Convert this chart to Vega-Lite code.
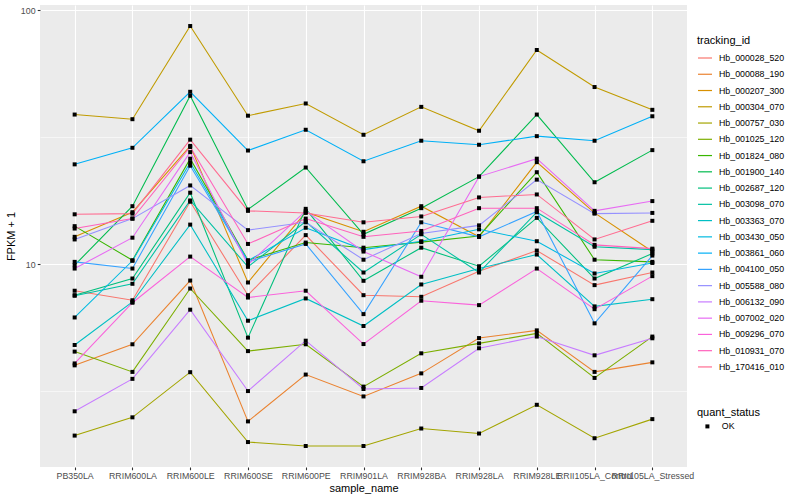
{
  "$schema": "https://vega.github.io/schema/vega-lite/v6.json",
  "width": 647,
  "height": 462,
  "autosize": {"type": "none"},
  "padding": {"left": 40, "top": 5, "right": 113, "bottom": 33},
  "background": "#FFFFFF",
  "config": {
    "font": "Liberation Sans",
    "view": {"fill": "#EBEBEB", "stroke": null},
    "axis": {"domain": false, "gridColor": "#FFFFFF", "gridWidth": 1.1, "tickColor": "#333333", "tickSize": 2.75, "tickWidth": 1.1, "labelColor": "#4D4D4D", "labelFontSize": 8.8, "labelPadding": 2.2, "titleFontSize": 11, "titleColor": "#000000", "titleFontWeight": "normal"},
    "legend": {"titleFontSize": 11, "titleFontWeight": "normal", "titleColor": "#000000", "labelFontSize": 8.8, "labelColor": "#000000"}
  },
  "data": {"values": [
    {"sample":"PB350LA","id":"Hb_000028_520","value":7.85,"status":"OK"},
    {"sample":"RRIM600LA","id":"Hb_000028_520","value":7.2,"status":"OK"},
    {"sample":"RRIM600LE","id":"Hb_000028_520","value":17.6,"status":"OK"},
    {"sample":"RRIM600SE","id":"Hb_000028_520","value":7.54,"status":"OK"},
    {"sample":"RRIM600PE","id":"Hb_000028_520","value":13.0,"status":"OK"},
    {"sample":"RRIM901LA","id":"Hb_000028_520","value":7.54,"status":"OK"},
    {"sample":"RRIM928BA","id":"Hb_000028_520","value":7.43,"status":"OK"},
    {"sample":"RRIM928LA","id":"Hb_000028_520","value":9.37,"status":"OK"},
    {"sample":"RRIM928LE","id":"Hb_000028_520","value":11.3,"status":"OK"},
    {"sample":"RRII105LA_Control","id":"Hb_000028_520","value":8.26,"status":"OK"},
    {"sample":"RRII105LA_Stressed","id":"Hb_000028_520","value":9.26,"status":"OK"},
    {"sample":"PB350LA","id":"Hb_000088_190","value":3.99,"status":"OK"},
    {"sample":"RRIM600LA","id":"Hb_000088_190","value":4.83,"status":"OK"},
    {"sample":"RRIM600LE","id":"Hb_000088_190","value":8.61,"status":"OK"},
    {"sample":"RRIM600SE","id":"Hb_000088_190","value":2.40,"status":"OK"},
    {"sample":"RRIM600PE","id":"Hb_000088_190","value":3.67,"status":"OK"},
    {"sample":"RRIM901LA","id":"Hb_000088_190","value":3.01,"status":"OK"},
    {"sample":"RRIM928BA","id":"Hb_000088_190","value":3.71,"status":"OK"},
    {"sample":"RRIM928LA","id":"Hb_000088_190","value":5.11,"status":"OK"},
    {"sample":"RRIM928LE","id":"Hb_000088_190","value":5.48,"status":"OK"},
    {"sample":"RRII105LA_Control","id":"Hb_000088_190","value":3.76,"status":"OK"},
    {"sample":"RRII105LA_Stressed","id":"Hb_000088_190","value":4.10,"status":"OK"},
    {"sample":"PB350LA","id":"Hb_000207_300","value":12.8,"status":"OK"},
    {"sample":"RRIM600LA","id":"Hb_000207_300","value":16.0,"status":"OK"},
    {"sample":"RRIM600LE","id":"Hb_000207_300","value":29.2,"status":"OK"},
    {"sample":"RRIM600SE","id":"Hb_000207_300","value":8.46,"status":"OK"},
    {"sample":"RRIM600PE","id":"Hb_000207_300","value":16.0,"status":"OK"},
    {"sample":"RRIM901LA","id":"Hb_000207_300","value":13.4,"status":"OK"},
    {"sample":"RRIM928BA","id":"Hb_000207_300","value":16.9,"status":"OK"},
    {"sample":"RRIM928LA","id":"Hb_000207_300","value":12.8,"status":"OK"},
    {"sample":"RRIM928LE","id":"Hb_000207_300","value":25.2,"status":"OK"},
    {"sample":"RRII105LA_Control","id":"Hb_000207_300","value":15.9,"status":"OK"},
    {"sample":"RRII105LA_Stressed","id":"Hb_000207_300","value":11.2,"status":"OK"},
    {"sample":"PB350LA","id":"Hb_000304_070","value":38.8,"status":"OK"},
    {"sample":"RRIM600LA","id":"Hb_000304_070","value":37.2,"status":"OK"},
    {"sample":"RRIM600LE","id":"Hb_000304_070","value":86.6,"status":"OK"},
    {"sample":"RRIM600SE","id":"Hb_000304_070","value":38.4,"status":"OK"},
    {"sample":"RRIM600PE","id":"Hb_000304_070","value":42.9,"status":"OK"},
    {"sample":"RRIM901LA","id":"Hb_000304_070","value":32.3,"status":"OK"},
    {"sample":"RRIM928BA","id":"Hb_000304_070","value":41.6,"status":"OK"},
    {"sample":"RRIM928LA","id":"Hb_000304_070","value":33.5,"status":"OK"},
    {"sample":"RRIM928LE","id":"Hb_000304_070","value":69.7,"status":"OK"},
    {"sample":"RRII105LA_Control","id":"Hb_000304_070","value":49.8,"status":"OK"},
    {"sample":"RRII105LA_Stressed","id":"Hb_000304_070","value":40.5,"status":"OK"},
    {"sample":"PB350LA","id":"Hb_000757_030","value":2.11,"status":"OK"},
    {"sample":"RRIM600LA","id":"Hb_000757_030","value":2.49,"status":"OK"},
    {"sample":"RRIM600LE","id":"Hb_000757_030","value":3.75,"status":"OK"},
    {"sample":"RRIM600SE","id":"Hb_000757_030","value":1.99,"status":"OK"},
    {"sample":"RRIM600PE","id":"Hb_000757_030","value":1.92,"status":"OK"},
    {"sample":"RRIM901LA","id":"Hb_000757_030","value":1.92,"status":"OK"},
    {"sample":"RRIM928BA","id":"Hb_000757_030","value":2.25,"status":"OK"},
    {"sample":"RRIM928LA","id":"Hb_000757_030","value":2.15,"status":"OK"},
    {"sample":"RRIM928LE","id":"Hb_000757_030","value":2.79,"status":"OK"},
    {"sample":"RRII105LA_Control","id":"Hb_000757_030","value":2.06,"status":"OK"},
    {"sample":"RRII105LA_Stressed","id":"Hb_000757_030","value":2.45,"status":"OK"},
    {"sample":"PB350LA","id":"Hb_001025_120","value":4.52,"status":"OK"},
    {"sample":"RRIM600LA","id":"Hb_001025_120","value":3.76,"status":"OK"},
    {"sample":"RRIM600LE","id":"Hb_001025_120","value":8.01,"status":"OK"},
    {"sample":"RRIM600SE","id":"Hb_001025_120","value":4.54,"status":"OK"},
    {"sample":"RRIM600PE","id":"Hb_001025_120","value":4.83,"status":"OK"},
    {"sample":"RRIM901LA","id":"Hb_001025_120","value":3.29,"status":"OK"},
    {"sample":"RRIM928BA","id":"Hb_001025_120","value":4.45,"status":"OK"},
    {"sample":"RRIM928LA","id":"Hb_001025_120","value":4.87,"status":"OK"},
    {"sample":"RRIM928LE","id":"Hb_001025_120","value":5.33,"status":"OK"},
    {"sample":"RRII105LA_Control","id":"Hb_001025_120","value":3.56,"status":"OK"},
    {"sample":"RRII105LA_Stressed","id":"Hb_001025_120","value":5.18,"status":"OK"},
    {"sample":"PB350LA","id":"Hb_001824_080","value":14.1,"status":"OK"},
    {"sample":"RRIM600LA","id":"Hb_001824_080","value":10.35,"status":"OK"},
    {"sample":"RRIM600LE","id":"Hb_001824_080","value":26.0,"status":"OK"},
    {"sample":"RRIM600SE","id":"Hb_001824_080","value":10.35,"status":"OK"},
    {"sample":"RRIM600PE","id":"Hb_001824_080","value":12.15,"status":"OK"},
    {"sample":"RRIM901LA","id":"Hb_001824_080","value":11.6,"status":"OK"},
    {"sample":"RRIM928BA","id":"Hb_001824_080","value":12.2,"status":"OK"},
    {"sample":"RRIM928LA","id":"Hb_001824_080","value":12.9,"status":"OK"},
    {"sample":"RRIM928LE","id":"Hb_001824_080","value":23.0,"status":"OK"},
    {"sample":"RRII105LA_Control","id":"Hb_001824_080","value":10.4,"status":"OK"},
    {"sample":"RRII105LA_Stressed","id":"Hb_001824_080","value":10.2,"status":"OK"},
    {"sample":"PB350LA","id":"Hb_001900_140","value":9.9,"status":"OK"},
    {"sample":"RRIM600LA","id":"Hb_001900_140","value":16.9,"status":"OK"},
    {"sample":"RRIM600LE","id":"Hb_001900_140","value":46.0,"status":"OK"},
    {"sample":"RRIM600SE","id":"Hb_001900_140","value":16.4,"status":"OK"},
    {"sample":"RRIM600PE","id":"Hb_001900_140","value":24.0,"status":"OK"},
    {"sample":"RRIM901LA","id":"Hb_001900_140","value":13.1,"status":"OK"},
    {"sample":"RRIM928BA","id":"Hb_001900_140","value":16.6,"status":"OK"},
    {"sample":"RRIM928LA","id":"Hb_001900_140","value":22.1,"status":"OK"},
    {"sample":"RRIM928LE","id":"Hb_001900_140","value":38.8,"status":"OK"},
    {"sample":"RRII105LA_Control","id":"Hb_001900_140","value":21.0,"status":"OK"},
    {"sample":"RRII105LA_Stressed","id":"Hb_001900_140","value":28.1,"status":"OK"},
    {"sample":"PB350LA","id":"Hb_002687_120","value":7.54,"status":"OK"},
    {"sample":"RRIM600LA","id":"Hb_002687_120","value":8.77,"status":"OK"},
    {"sample":"RRIM600LE","id":"Hb_002687_120","value":19.1,"status":"OK"},
    {"sample":"RRIM600SE","id":"Hb_002687_120","value":5.13,"status":"OK"},
    {"sample":"RRIM600PE","id":"Hb_002687_120","value":16.5,"status":"OK"},
    {"sample":"RRIM901LA","id":"Hb_002687_120","value":8.59,"status":"OK"},
    {"sample":"RRIM928BA","id":"Hb_002687_120","value":11.6,"status":"OK"},
    {"sample":"RRIM928LA","id":"Hb_002687_120","value":9.8,"status":"OK"},
    {"sample":"RRIM928LE","id":"Hb_002687_120","value":15.2,"status":"OK"},
    {"sample":"RRII105LA_Control","id":"Hb_002687_120","value":8.77,"status":"OK"},
    {"sample":"RRII105LA_Stressed","id":"Hb_002687_120","value":11.0,"status":"OK"},
    {"sample":"PB350LA","id":"Hb_003098_070","value":7.50,"status":"OK"},
    {"sample":"RRIM600LA","id":"Hb_003098_070","value":8.36,"status":"OK"},
    {"sample":"RRIM600LE","id":"Hb_003098_070","value":17.8,"status":"OK"},
    {"sample":"RRIM600SE","id":"Hb_003098_070","value":9.75,"status":"OK"},
    {"sample":"RRIM600PE","id":"Hb_003098_070","value":14.7,"status":"OK"},
    {"sample":"RRIM901LA","id":"Hb_003098_070","value":9.26,"status":"OK"},
    {"sample":"RRIM928BA","id":"Hb_003098_070","value":13.1,"status":"OK"},
    {"sample":"RRIM928LA","id":"Hb_003098_070","value":9.26,"status":"OK"},
    {"sample":"RRIM928LE","id":"Hb_003098_070","value":16.0,"status":"OK"},
    {"sample":"RRII105LA_Control","id":"Hb_003098_070","value":11.7,"status":"OK"},
    {"sample":"RRII105LA_Stressed","id":"Hb_003098_070","value":11.4,"status":"OK"},
    {"sample":"PB350LA","id":"Hb_003363_070","value":4.80,"status":"OK"},
    {"sample":"RRIM600LA","id":"Hb_003363_070","value":7.09,"status":"OK"},
    {"sample":"RRIM600LE","id":"Hb_003363_070","value":14.3,"status":"OK"},
    {"sample":"RRIM600SE","id":"Hb_003363_070","value":5.98,"status":"OK"},
    {"sample":"RRIM600PE","id":"Hb_003363_070","value":7.32,"status":"OK"},
    {"sample":"RRIM901LA","id":"Hb_003363_070","value":5.70,"status":"OK"},
    {"sample":"RRIM928BA","id":"Hb_003363_070","value":8.31,"status":"OK"},
    {"sample":"RRIM928LA","id":"Hb_003363_070","value":9.6,"status":"OK"},
    {"sample":"RRIM928LE","id":"Hb_003363_070","value":10.9,"status":"OK"},
    {"sample":"RRII105LA_Control","id":"Hb_003363_070","value":6.81,"status":"OK"},
    {"sample":"RRII105LA_Stressed","id":"Hb_003363_070","value":7.27,"status":"OK"},
    {"sample":"PB350LA","id":"Hb_003430_050","value":6.16,"status":"OK"},
    {"sample":"RRIM600LA","id":"Hb_003430_050","value":10.3,"status":"OK"},
    {"sample":"RRIM600LE","id":"Hb_003430_050","value":25.1,"status":"OK"},
    {"sample":"RRIM600SE","id":"Hb_003430_050","value":10.3,"status":"OK"},
    {"sample":"RRIM600PE","id":"Hb_003430_050","value":13.9,"status":"OK"},
    {"sample":"RRIM901LA","id":"Hb_003430_050","value":11.4,"status":"OK"},
    {"sample":"RRIM928BA","id":"Hb_003430_050","value":12.3,"status":"OK"},
    {"sample":"RRIM928LA","id":"Hb_003430_050","value":13.7,"status":"OK"},
    {"sample":"RRIM928LE","id":"Hb_003430_050","value":12.3,"status":"OK"},
    {"sample":"RRII105LA_Control","id":"Hb_003430_050","value":9.18,"status":"OK"},
    {"sample":"RRII105LA_Stressed","id":"Hb_003430_050","value":10.1,"status":"OK"},
    {"sample":"PB350LA","id":"Hb_003861_060","value":24.7,"status":"OK"},
    {"sample":"RRIM600LA","id":"Hb_003861_060","value":28.7,"status":"OK"},
    {"sample":"RRIM600LE","id":"Hb_003861_060","value":47.7,"status":"OK"},
    {"sample":"RRIM600SE","id":"Hb_003861_060","value":28.0,"status":"OK"},
    {"sample":"RRIM600PE","id":"Hb_003861_060","value":33.8,"status":"OK"},
    {"sample":"RRIM901LA","id":"Hb_003861_060","value":25.4,"status":"OK"},
    {"sample":"RRIM928BA","id":"Hb_003861_060","value":30.6,"status":"OK"},
    {"sample":"RRIM928LA","id":"Hb_003861_060","value":29.5,"status":"OK"},
    {"sample":"RRIM928LE","id":"Hb_003861_060","value":31.9,"status":"OK"},
    {"sample":"RRII105LA_Control","id":"Hb_003861_060","value":30.6,"status":"OK"},
    {"sample":"RRII105LA_Stressed","id":"Hb_003861_060","value":38.2,"status":"OK"},
    {"sample":"PB350LA","id":"Hb_004100_050","value":10.2,"status":"OK"},
    {"sample":"RRIM600LA","id":"Hb_004100_050","value":9.6,"status":"OK"},
    {"sample":"RRIM600LE","id":"Hb_004100_050","value":24.4,"status":"OK"},
    {"sample":"RRIM600SE","id":"Hb_004100_050","value":10.2,"status":"OK"},
    {"sample":"RRIM600PE","id":"Hb_004100_050","value":12.0,"status":"OK"},
    {"sample":"RRIM901LA","id":"Hb_004100_050","value":6.35,"status":"OK"},
    {"sample":"RRIM928BA","id":"Hb_004100_050","value":14.6,"status":"OK"},
    {"sample":"RRIM928LA","id":"Hb_004100_050","value":12.8,"status":"OK"},
    {"sample":"RRIM928LE","id":"Hb_004100_050","value":16.1,"status":"OK"},
    {"sample":"RRII105LA_Control","id":"Hb_004100_050","value":5.84,"status":"OK"},
    {"sample":"RRII105LA_Stressed","id":"Hb_004100_050","value":10.8,"status":"OK"},
    {"sample":"PB350LA","id":"Hb_005588_080","value":12.5,"status":"OK"},
    {"sample":"RRIM600LA","id":"Hb_005588_080","value":15.1,"status":"OK"},
    {"sample":"RRIM600LE","id":"Hb_005588_080","value":20.4,"status":"OK"},
    {"sample":"RRIM600SE","id":"Hb_005588_080","value":13.6,"status":"OK"},
    {"sample":"RRIM600PE","id":"Hb_005588_080","value":14.6,"status":"OK"},
    {"sample":"RRIM901LA","id":"Hb_005588_080","value":10.4,"status":"OK"},
    {"sample":"RRIM928BA","id":"Hb_005588_080","value":13.2,"status":"OK"},
    {"sample":"RRIM928LA","id":"Hb_005588_080","value":14.2,"status":"OK"},
    {"sample":"RRIM928LE","id":"Hb_005588_080","value":21.5,"status":"OK"},
    {"sample":"RRII105LA_Control","id":"Hb_005588_080","value":15.8,"status":"OK"},
    {"sample":"RRII105LA_Stressed","id":"Hb_005588_080","value":15.9,"status":"OK"},
    {"sample":"PB350LA","id":"Hb_006132_090","value":2.63,"status":"OK"},
    {"sample":"RRIM600LA","id":"Hb_006132_090","value":3.53,"status":"OK"},
    {"sample":"RRIM600LE","id":"Hb_006132_090","value":6.61,"status":"OK"},
    {"sample":"RRIM600SE","id":"Hb_006132_090","value":3.16,"status":"OK"},
    {"sample":"RRIM600PE","id":"Hb_006132_090","value":4.99,"status":"OK"},
    {"sample":"RRIM901LA","id":"Hb_006132_090","value":3.22,"status":"OK"},
    {"sample":"RRIM928BA","id":"Hb_006132_090","value":3.25,"status":"OK"},
    {"sample":"RRIM928LA","id":"Hb_006132_090","value":4.66,"status":"OK"},
    {"sample":"RRIM928LE","id":"Hb_006132_090","value":5.18,"status":"OK"},
    {"sample":"RRII105LA_Control","id":"Hb_006132_090","value":4.37,"status":"OK"},
    {"sample":"RRII105LA_Stressed","id":"Hb_006132_090","value":5.10,"status":"OK"},
    {"sample":"PB350LA","id":"Hb_007002_020","value":9.6,"status":"OK"},
    {"sample":"RRIM600LA","id":"Hb_007002_020","value":12.7,"status":"OK"},
    {"sample":"RRIM600LE","id":"Hb_007002_020","value":27.6,"status":"OK"},
    {"sample":"RRIM600SE","id":"Hb_007002_020","value":9.95,"status":"OK"},
    {"sample":"RRIM600PE","id":"Hb_007002_020","value":16.2,"status":"OK"},
    {"sample":"RRIM901LA","id":"Hb_007002_020","value":11.2,"status":"OK"},
    {"sample":"RRIM928BA","id":"Hb_007002_020","value":8.91,"status":"OK"},
    {"sample":"RRIM928LA","id":"Hb_007002_020","value":22.1,"status":"OK"},
    {"sample":"RRIM928LE","id":"Hb_007002_020","value":26.0,"status":"OK"},
    {"sample":"RRII105LA_Control","id":"Hb_007002_020","value":16.2,"status":"OK"},
    {"sample":"RRII105LA_Stressed","id":"Hb_007002_020","value":17.7,"status":"OK"},
    {"sample":"PB350LA","id":"Hb_009296_070","value":4.06,"status":"OK"},
    {"sample":"RRIM600LA","id":"Hb_009296_070","value":7.04,"status":"OK"},
    {"sample":"RRIM600LE","id":"Hb_009296_070","value":10.7,"status":"OK"},
    {"sample":"RRIM600SE","id":"Hb_009296_070","value":7.38,"status":"OK"},
    {"sample":"RRIM600PE","id":"Hb_009296_070","value":7.85,"status":"OK"},
    {"sample":"RRIM901LA","id":"Hb_009296_070","value":4.84,"status":"OK"},
    {"sample":"RRIM928BA","id":"Hb_009296_070","value":7.17,"status":"OK"},
    {"sample":"RRIM928LA","id":"Hb_009296_070","value":6.89,"status":"OK"},
    {"sample":"RRIM928LE","id":"Hb_009296_070","value":9.6,"status":"OK"},
    {"sample":"RRII105LA_Control","id":"Hb_009296_070","value":6.64,"status":"OK"},
    {"sample":"RRII105LA_Stressed","id":"Hb_009296_070","value":8.96,"status":"OK"},
    {"sample":"PB350LA","id":"Hb_010931_070","value":13.8,"status":"OK"},
    {"sample":"RRIM600LA","id":"Hb_010931_070","value":15.1,"status":"OK"},
    {"sample":"RRIM600LE","id":"Hb_010931_070","value":28.9,"status":"OK"},
    {"sample":"RRIM600SE","id":"Hb_010931_070","value":12.0,"status":"OK"},
    {"sample":"RRIM600PE","id":"Hb_010931_070","value":15.1,"status":"OK"},
    {"sample":"RRIM901LA","id":"Hb_010931_070","value":12.8,"status":"OK"},
    {"sample":"RRIM928BA","id":"Hb_010931_070","value":13.5,"status":"OK"},
    {"sample":"RRIM928LA","id":"Hb_010931_070","value":16.6,"status":"OK"},
    {"sample":"RRIM928LE","id":"Hb_010931_070","value":16.6,"status":"OK"},
    {"sample":"RRII105LA_Control","id":"Hb_010931_070","value":11.9,"status":"OK"},
    {"sample":"RRII105LA_Stressed","id":"Hb_010931_070","value":11.5,"status":"OK"},
    {"sample":"PB350LA","id":"Hb_170416_010","value":15.7,"status":"OK"},
    {"sample":"RRIM600LA","id":"Hb_170416_010","value":15.8,"status":"OK"},
    {"sample":"RRIM600LE","id":"Hb_170416_010","value":30.9,"status":"OK"},
    {"sample":"RRIM600SE","id":"Hb_170416_010","value":16.2,"status":"OK"},
    {"sample":"RRIM600PE","id":"Hb_170416_010","value":15.9,"status":"OK"},
    {"sample":"RRIM901LA","id":"Hb_170416_010","value":14.6,"status":"OK"},
    {"sample":"RRIM928BA","id":"Hb_170416_010","value":15.4,"status":"OK"},
    {"sample":"RRIM928LA","id":"Hb_170416_010","value":18.3,"status":"OK"},
    {"sample":"RRIM928LE","id":"Hb_170416_010","value":18.8,"status":"OK"},
    {"sample":"RRII105LA_Control","id":"Hb_170416_010","value":12.5,"status":"OK"},
    {"sample":"RRII105LA_Stressed","id":"Hb_170416_010","value":14.8,"status":"OK"}
  ]},
  "layer": [
    {
      "mark": {"type": "line", "strokeWidth": 1.07},
      "encoding": {
        "x": {"field": "sample", "type": "nominal", "sort": ["PB350LA","RRIM600LA","RRIM600LE","RRIM600SE","RRIM600PE","RRIM901LA","RRIM928BA","RRIM928LA","RRIM928LE","RRII105LA_Control","RRII105LA_Stressed"], "scale": {"type": "point", "padding": 0.6}, "axis": {"title": "sample_name", "labelAngle": 0, "grid": true, "labelOverlap": false, "titlePadding": 2}},
        "y": {"field": "value", "type": "quantitative", "scale": {"type": "log", "domain": [1.587, 104.8], "nice": false, "zero": false}, "axis": {"title": "FPKM + 1", "values": [10, 100], "format": "d", "grid": true, "orient": "left", "titlePadding": 4}},
        "color": {"field": "id", "type": "nominal", "scale": {"domain": ["Hb_000028_520","Hb_000088_190","Hb_000207_300","Hb_000304_070","Hb_000757_030","Hb_001025_120","Hb_001824_080","Hb_001900_140","Hb_002687_120","Hb_003098_070","Hb_003363_070","Hb_003430_050","Hb_003861_060","Hb_004100_050","Hb_005588_080","Hb_006132_090","Hb_007002_020","Hb_009296_070","Hb_010931_070","Hb_170416_010"], "range": ["#F8766D","#EA8331","#D89000","#C09B00","#A3A500","#7CAE00","#39B600","#00BB4E","#00BF7D","#00C1A3","#00BFC4","#00BAE0","#00B0F6","#35A2FF","#9590FF","#C77CFF","#E76BF3","#FA62DB","#FF62BC","#FF6C91"]}, "legend": {"title": "tracking_id", "orient": "none", "legendX": 657, "legendY": 30, "symbolType": "stroke", "symbolSize": 196, "symbolStrokeWidth": 1.2, "rowPadding": 3.26, "titlePadding": 4, "labelOffset": 6}}
      }
    },
    {
      "mark": {"type": "point", "shape": "square", "filled": true, "size": 16, "color": "#000000", "opacity": 1},
      "encoding": {
        "x": {"field": "sample", "type": "nominal", "sort": ["PB350LA","RRIM600LA","RRIM600LE","RRIM600SE","RRIM600PE","RRIM901LA","RRIM928BA","RRIM928LA","RRIM928LE","RRII105LA_Control","RRII105LA_Stressed"]},
        "y": {"field": "value", "type": "quantitative", "axis": {"values": [3.1623, 31.623], "grid": true, "gridWidth": 0.55, "labels": false, "ticks": false, "domain": false, "title": null, "orient": "left"}},
        "shape": {"field": "status", "type": "nominal", "scale": {"range": ["square"]}, "legend": {"title": "quant_status", "orient": "none", "legendX": 657, "legendY": 402, "symbolSize": 16, "symbolFillColor": "#000000", "symbolStrokeColor": "#000000", "symbolOffset": 6, "titlePadding": 4, "labelOffset": 10}}
      }
    }
  ],
  "resolve": {"axis": {"y": "independent"}}
}
